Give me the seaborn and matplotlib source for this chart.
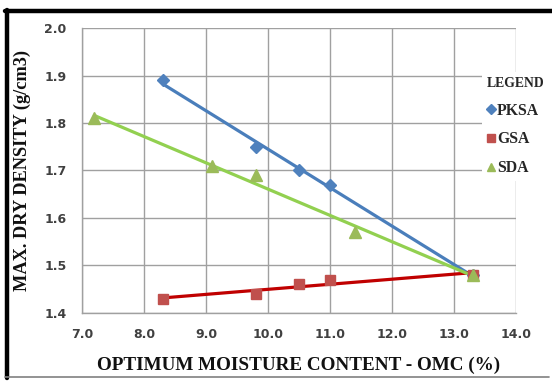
import matplotlib
matplotlib.use("Agg")
import matplotlib.pyplot as plt
import seaborn as sns
import numpy as np
from matplotlib.lines import Line2D

# Data
pksa_x = [8.3, 9.8, 10.5, 11.0, 13.3]
pksa_y = [1.89, 1.75, 1.70, 1.67, 1.48]
gsa_x = [8.3, 9.8, 10.5, 11.0, 13.3]
gsa_y = [1.43, 1.44, 1.46, 1.47, 1.48]
sda_x = [7.2, 9.1, 9.8, 11.4, 13.3]
sda_y = [1.81, 1.71, 1.69, 1.57, 1.48]
x_ticks = [7.0, 8.0, 9.0, 10.0, 11.0, 12.0, 13.0, 14.0]
y_ticks = [1.4, 1.5, 1.6, 1.7, 1.8, 1.9, 2.0]

sns.set_style("white")
plt.rcParams['font.family'] = ['DejaVu Sans']

fig = plt.figure(figsize=(5.52, 3.81), dpi=100)
ax = fig.add_axes([0.1486, 0.1785, 0.786, 0.748])

series = [
    ("PKSA", pksa_x, pksa_y, "D", "#4F81BD", "#4A7EBB", 6),
    ("GSA", gsa_x, gsa_y, "s", "#C0504D", "#C00000", 7.5),
    ("SDA", sda_x, sda_y, "^", "#9BBB59", "#92D050", 8),
]
handles = []
for name, xs, ys, mk, mc, lc, ms in series:
    sns.regplot(x=np.array(xs), y=np.array(ys), ax=ax, ci=None, scatter=False,
                line_kws=dict(color=lc, lw=2.3, zorder=3), truncate=True)
    ax.plot(xs, ys, linestyle="none", marker=mk, markersize=ms, color=mc,
            markeredgecolor=mc, zorder=4)
    handles.append(Line2D([], [], linestyle="none", marker=mk, color=mc,
                          markersize=ms * 0.8, label=name))

ax.set_xlim(7.0, 14.0)
ax.set_ylim(1.4, 2.0)
ax.set_xticks(x_ticks)
ax.set_yticks(y_ticks)
ax.set_xticklabels([f"{v:.1f}" for v in x_ticks])
ax.set_yticklabels([f"{v:.1f}" for v in y_ticks])
ax.grid(True, color="#A0A0A0", lw=1.0)
for s in ["top", "right"]:
    ax.spines[s].set_visible(False)
for s in ["left", "bottom"]:
    ax.spines[s].set_color("#A0A0A0")
    ax.spines[s].set_linewidth(1.0)
ax.tick_params(axis="both", direction="out", length=4, width=1, color="#A0A0A0",
               labelsize=9, labelcolor="#404040", pad=7)
for lab in ax.get_xticklabels() + ax.get_yticklabels():
    lab.set_fontfamily("DejaVu Sans")
    lab.set_fontweight("bold")

ax.set_xlabel("OPTIMUM MOISTURE CONTENT - OMC (%)", family="Liberation Serif",
              fontweight="bold", fontsize=13.8, labelpad=11, color="#111111")
ax.set_ylabel("MAX. DRY DENSITY (g/cm3)", family="Liberation Serif",
              fontweight="bold", fontsize=13.2, labelpad=10, color="#111111")

leg = fig.legend(handles=handles, title="LEGEND", loc="upper left",
                 bbox_to_anchor=(0.873, 0.811), frameon=True, facecolor="white",
                 edgecolor="none", framealpha=1, fancybox=False,
                 prop=dict(family="Liberation Serif", weight="bold", size=11.3),
                 handlelength=0.5, handletextpad=0.15, labelspacing=0.82,
                 borderpad=0.3, borderaxespad=0)
leg.get_title().set_fontfamily("Liberation Serif")
leg.get_title().set_fontweight("bold")
leg.get_title().set_fontsize(9.8)
leg._legend_box.align = "left"
leg.set_zorder(10)

# Figure border
fig.add_artist(Line2D([0.009, 1.0], [0.971, 0.971], color="black", lw=3.2,
                      transform=fig.transFigure))
fig.add_artist(Line2D([0.0127, 0.0127], [0.975, 0.008], color="black", lw=3.2,
                      transform=fig.transFigure))
fig.add_artist(Line2D([0.009, 0.995], [0.0105, 0.0105], color="#808080", lw=1.2,
                      transform=fig.transFigure))

fig.savefig("out.png", dpi=100)
